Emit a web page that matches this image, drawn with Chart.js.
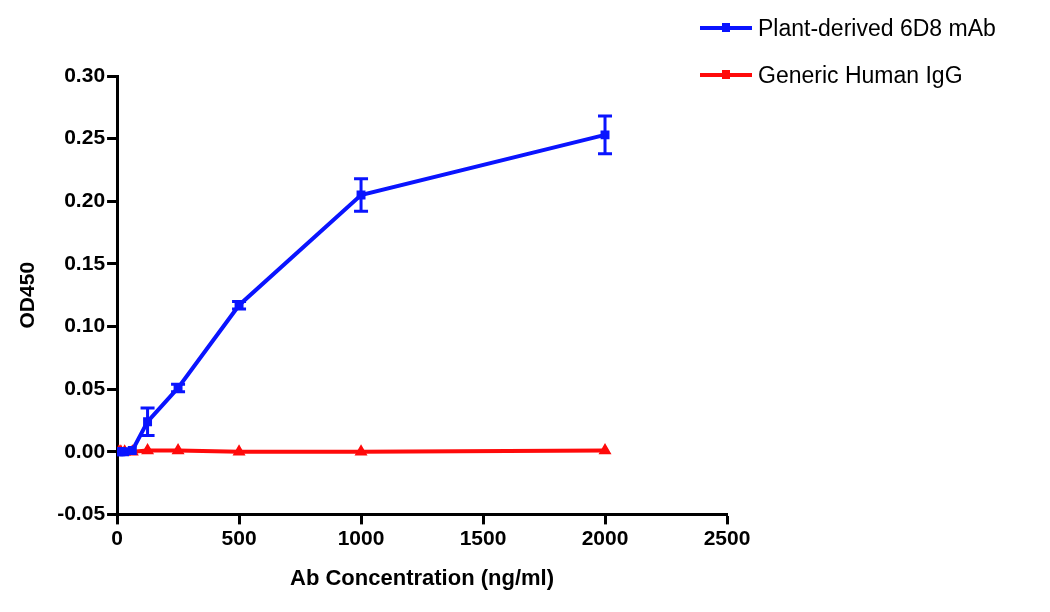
<!DOCTYPE html>
<html>
<head>
<meta charset="utf-8">
<script src="https://cdn.jsdelivr.net/npm/chart.js@4"></script>
<style>
body { margin: 0; background: #fff; }
#wrap { position: relative; width: 1050px; height: 612px; }
#legend { position: absolute; left: 700px; top: 4px; font-family: "Liberation Sans", Arial, sans-serif; font-size: 23px; color: #000; }
#legend div { height: 47px; line-height: 30px; display: flex; align-items: center; }
#legend span.sw { display: inline-block; width: 52px; height: 4px; margin-right: 6px; position: relative; }
#legend span.sw i { position: absolute; left: 22px; top: -3px; width: 8px; height: 9px; }
</style>
</head>
<body>
<div id="wrap">
<canvas id="odChart" width="1050" height="612"></canvas>
<div id="legend">
  <div><span class="sw" style="background:#0a14ff"><i style="background:#0a14ff"></i></span>Plant-derived 6D8 mAb</div>
  <div><span class="sw" style="background:#ff0a0a"><i style="background:#ff0a0a"></i></span>Generic Human IgG</div>
</div>
</div>
<script>
// ---- data ----
const conc = [7.8, 15.6, 31.25, 62.5, 125, 250, 500, 1000, 2000];
const mabMean = [0.000, 0.000, 0.000, 0.001, 0.024, 0.051, 0.117, 0.205, 0.253];
const mabErr  = [0, 0, 0, 0, 0.011, 0.003, 0.003, 0.013, 0.015];
const iggMean = [0.000, 0.000, 0.000, 0.000, 0.001, 0.001, 0.000, 0.000, 0.001];
const iggErr  = [0, 0, 0, 0, 0, 0, 0, 0, 0];
const xTicks = [0, 500, 1000, 1500, 2000, 2500];
const yTicks = [-0.05, 0.00, 0.05, 0.10, 0.15, 0.20, 0.25, 0.30];

const blue = '#0a14ff';
const red = '#ff0a0a';

function pts(ys) {
    return conc.map((c, i) => ({ x: c, y: ys[i] }));
}

// error bars drawn from the scales
const errorBars = {
    id: 'errorBars',
    afterDatasetsDraw(chart) {
        const ctx = chart.ctx;
        const xs = chart.scales.x, ys = chart.scales.y;
        const sets = [[mabMean, mabErr, blue], [iggMean, iggErr, red]];
        sets.forEach(([m, e, col]) => {
            ctx.save();
            ctx.strokeStyle = col;
            ctx.lineWidth = 3;
            conc.forEach((c, i) => {
                if (!e[i]) return;
                const px = xs.getPixelForValue(c);
                const top = ys.getPixelForValue(m[i] + e[i]);
                const bot = ys.getPixelForValue(m[i] - e[i]);
                ctx.beginPath();
                ctx.moveTo(px, top); ctx.lineTo(px, bot);
                ctx.moveTo(px - 7, top); ctx.lineTo(px + 7, top);
                ctx.moveTo(px - 7, bot); ctx.lineTo(px + 7, bot);
                ctx.stroke();
            });
            ctx.restore();
        });
    }
};

const tickFont = { family: '"Liberation Sans", Arial, sans-serif', size: 21, weight: 'bold' };

new Chart(document.getElementById('odChart'), {
    type: 'line',
    data: {
        datasets: [{
            label: 'Plant-derived 6D8 mAb',
            data: pts(mabMean),
            borderColor: blue,
            backgroundColor: blue,
            borderWidth: 4,
            pointStyle: 'rect',
            pointRadius: 3.5,
            tension: 0
        }, {
            label: 'Generic Human IgG',
            data: pts(iggMean),
            borderColor: red,
            backgroundColor: red,
            borderWidth: 4,
            pointStyle: 'triangle',
            pointRadius: 3.5,
            tension: 0
        }]
    },
    options: {
        responsive: false,
        animation: false,
        layout: { padding: { left: 12, top: 76, right: 323, bottom: 16 } },
        plugins: {
            legend: { display: false },
            tooltip: { enabled: false }
        },
        scales: {
            x: {
                type: 'linear',
                min: 0, max: 2500,
                afterBuildTicks: s => { s.ticks = xTicks.map(v => ({ value: v })); },
                border: { display: true, color: '#000', width: 3 },
                grid: { drawOnChartArea: false, drawTicks: true, tickLength: 10, tickWidth: 3, tickColor: '#000' },
                ticks: { color: '#000', font: tickFont, padding: 2, maxRotation: 0, callback: v => String(v) },
                title: { display: true, text: 'Ab Concentration (ng/ml)', color: '#000',
                         font: { family: '"Liberation Sans", Arial, sans-serif', size: 22, weight: 'bold' }, padding: { top: 12 } }
            },
            y: {
                min: -0.05, max: 0.30,
                afterBuildTicks: s => { s.ticks = yTicks.map(v => ({ value: v })); },
                border: { display: true, color: '#000', width: 3 },
                grid: { drawOnChartArea: false, drawTicks: true, tickLength: 10, tickWidth: 3, tickColor: '#000' },
                ticks: { color: '#000', font: tickFont, padding: 2, callback: v => v.toFixed(2) },
                title: { display: true, text: 'OD450', color: '#000',
                         font: { family: '"Liberation Sans", Arial, sans-serif', size: 21, weight: 'bold' }, padding: { bottom: 14 } }
            }
        }
    },
    plugins: [errorBars]
});
</script>
</body>
</html>
